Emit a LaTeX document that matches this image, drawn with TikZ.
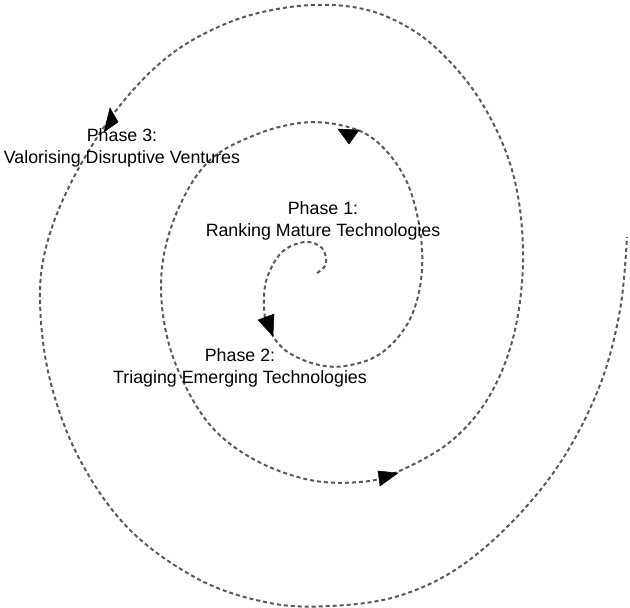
\documentclass[tikz,border=0pt]{standalone}
\usepackage{fontspec}
\setmainfont{Liberation Sans}
\begin{document}
\begin{tikzpicture}[x=1pt,y=-1pt,
  spiral/.style={draw=black!65,line width=2pt,dash pattern=on 4pt off 3pt},
  head/.style={fill=black,draw=black,line width=0.5pt},
  lbl/.style={font=\fontsize{17.8}{22.5}\selectfont,align=center,inner sep=0pt}]
\useasboundingbox (0,0) rectangle (630,608);
\draw[spiral] plot[smooth,tension=0.6] coordinates {
 (317,273) (326,264) (322,248) (305,242) (282,252) (267,278) (264,305) (268,327)
 (285,350) (315,364) (345,366) (380,354) (408,323) (421,280) (420,230) (405,178)
 (375,140) (340,125) (300,123) (255,135) (210,160) (180,205) (163,260) (163,315)
 (178,370) (210,425) (255,460) (310,480) (360,482) (395,473) (450,442) (490,395)
 (515,330) (523,250) (512,170) (480,100) (435,47) (390,18) (345,6) (290,7)
 (230,22) (170,55) (118,108) (75,175) (48,240) (40,300) (50,380) (80,460)
 (130,530) (200,580) (270,603) (330,606) (395,597) (455,570) (512,522)
 (562,460) (600,385) (620,310) (627,237)};
\fill[head] (338,129) -- (359,130) -- (349,144) -- cycle;
\fill[head] (110,108) -- (118,122) -- (104,132) -- cycle;
\fill[head] (258,320) -- (274,314) -- (273,336) -- cycle;
\fill[head] (378,471) -- (380,486) -- (398,473) -- cycle;
\node[lbl] (p1) at (323,221) {Phase 1:\\Ranking Mature Technologies};
\node[lbl] (p2) at (240,368) {Phase 2:\\Triaging Emerging Technologies};
\node[lbl] (p3) at (122,148) {Phase 3:\\Valorising Disruptive Ventures};
\end{tikzpicture}
\end{document}
